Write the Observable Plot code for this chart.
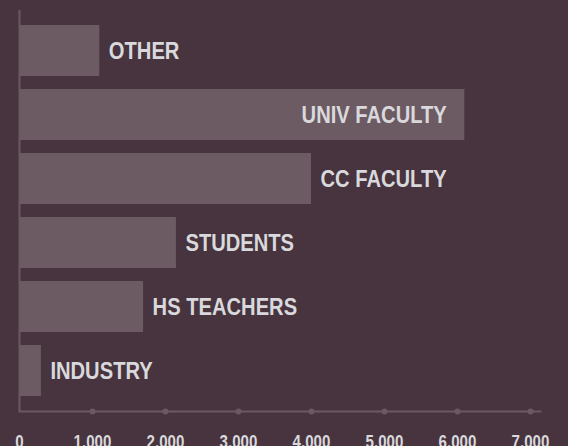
<!DOCTYPE html>
<html>
<head>
<meta charset="utf-8">
<script src="https://cdn.jsdelivr.net/npm/d3@7"></script>
<script src="https://cdn.jsdelivr.net/npm/@observablehq/plot@0.6"></script>
<style>
  html, body { margin: 0; padding: 0; background: #47343e; overflow: hidden; }
  #chart svg { display: block; }
</style>
</head>
<body>
<div id="chart"></div>
<script>
const categories = ["OTHER", "UNIV FACULTY", "CC FACULTY", "STUDENTS", "HS TEACHERS", "INDUSTRY"];
const values = [1100, 6100, 4000, 2150, 1700, 300];
const insideLabels = ["UNIV FACULTY"];
const tickValues = [0, 1000, 2000, 3000, 4000, 5000, 6000, 7000];
const dotTicks = [1000, 2000, 3000, 4000, 5000, 6000, 7000];

const data = categories.map((name, i) => ({name, value: values[i]}));

const font = "'Liberation Sans', Arial, sans-serif";
const barColor = "#6c5b63";
const axisColor = "#6c5862";
const textColor = "#d9d9dd";

const chart = Plot.plot({
  width: 568,
  height: 446,
  marginLeft: 19,
  marginRight: 28,
  marginTop: 10,
  marginBottom: 35,
  style: {background: "#47343e", fontFamily: font, overflow: "visible"},
  x: {domain: [0, 7137], axis: null},
  y: {domain: categories, padding: 0.2, axis: null},
  marks: [
    Plot.barX(data, {x: "value", y: "name", fill: barColor}),
    Plot.ruleX([0], {stroke: axisColor, strokeWidth: 2}),
    Plot.frame({anchor: "bottom", stroke: axisColor, strokeWidth: 2}),
    Plot.dot(dotTicks, {x: d => d, frameAnchor: "bottom", r: 3, fill: axisColor, stroke: null}),
    Plot.text(tickValues, {
      x: d => d, frameAnchor: "bottom", text: d => d3.format(",")(d), lineAnchor: "top", dy: 24,
      fill: textColor, fontSize: 18, fontWeight: "bold", fontFamily: font, className: "ticklab"
    }),
    Plot.text(data.filter(d => !insideLabels.includes(d.name)), {
      x: "value", y: "name", text: "name", textAnchor: "start", dx: 9,
      fill: textColor, fontSize: 24, fontWeight: "bold", fontFamily: font, className: "barlab"
    }),
    Plot.text(data.filter(d => insideLabels.includes(d.name)), {
      x: "value", y: "name", text: "name", textAnchor: "end", dx: -18,
      fill: textColor, fontSize: 24, fontWeight: "bold", fontFamily: font, className: "barlab"
    })
  ]
});

document.getElementById("chart").appendChild(chart);

// condense the glyphs horizontally to mimic a narrow bold face
d3.select(chart).selectAll("text").each(function() {
  const len = this.getComputedTextLength();
  if (len > 0) {
    this.setAttribute("textLength", (len * 0.84).toFixed(1));
    this.setAttribute("lengthAdjust", "spacingAndGlyphs");
  }
});
</script>
</body>
</html>
